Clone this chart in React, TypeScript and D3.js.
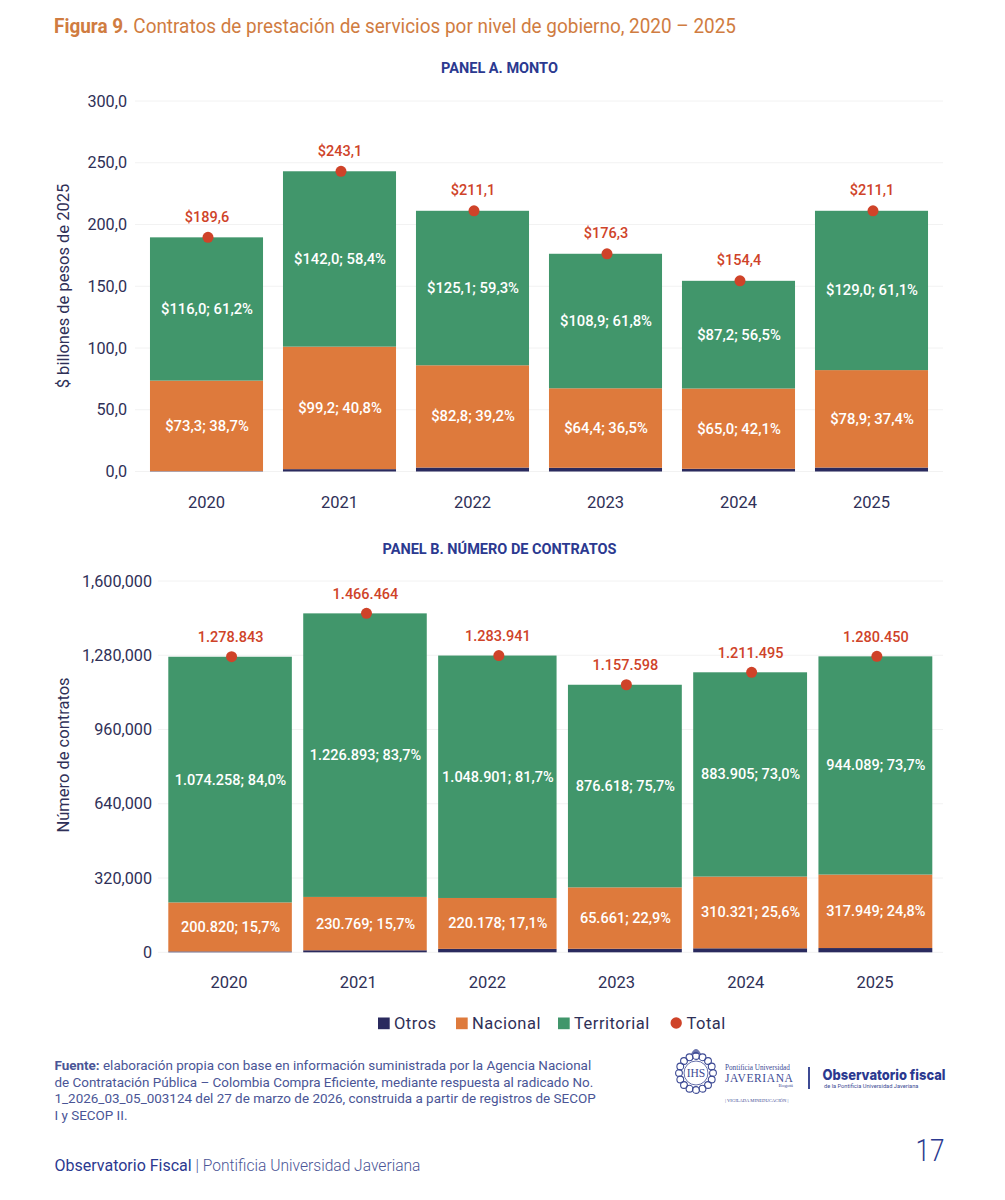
import { useEffect, useRef } from 'react'
import * as d3 from 'd3'

const years = ['2020', '2021', '2022', '2023', '2024', '2025']
const seriesKeys = ['Otros', 'Nacional', 'Territorial']

// Panel A, billones de pesos
const montoOtros = [0.3, 1.9, 3.2, 3.0, 2.2, 3.2]
const montoNacional = [73.3, 99.2, 82.8, 64.4, 65.0, 78.9]
const montoTerritorial = [116.0, 142.0, 125.1, 108.9, 87.2, 129.0]
const montoTotal = [189.6, 243.1, 211.1, 176.3, 154.4, 211.1]
const montoPctNacional = [38.7, 40.8, 39.2, 36.5, 42.1, 37.4]
const montoPctTerritorial = [61.2, 58.4, 59.3, 61.8, 56.5, 61.1]
const montoTicks = [0, 50, 100, 150, 200, 250, 300]

// Panel B, numero de contratos. Bar heights
const contratosOtros = [3765, 8802, 14862, 15319, 17269, 18412]
const contratosNacional = [212000, 230769, 220178, 265661, 310321, 317949]
const contratosTerritorial = [1063000, 1226893, 1048901, 876618, 883905, 944089]
const contratosTotal = [1278843, 1466464, 1283941, 1157598, 1211495, 1280450]
// Printed labels differ from the bars: 2023 says 65.661 on a 265.661 bar
const nacionalImpreso = [200820, 230769, 220178, 65661, 310321, 317949]
const territorialImpreso = [1074258, 1226893, 1048901, 876618, 883905, 944089]
const contratosPctNacional = [15.7, 15.7, 17.1, 22.9, 25.6, 24.8]
const contratosPctTerritorial = [84.0, 83.7, 81.7, 75.7, 73.0, 73.7]
const contratosTicks = [0, 320000, 640000, 960000, 1280000, 1600000]
// panel B bars are not all the same width in the original
const contratosBandWeights = [1.085, 1.085, 1.04, 1, 1, 1]

const legendItems = ['Otros', 'Nacional', 'Territorial', 'Total']

const fuenteLines = [
  'elaboración propia con base en información suministrada por la Agencia Nacional',
  'de Contratación Pública – Colombia Compra Eficiente, mediante respuesta al radicado No.',
  '1_2026_03_05_003124 del 27 de marzo de 2026, construida a partir de registros de SECOP',
  'I y SECOP II.',
]

const COLORS = {
  Otros: '#2a2a5e',
  Nacional: '#de7a3c',
  Territorial: '#41966b',
  Total: '#cf4329',
  ink: '#2f3057',
  navy: '#2b3990',
  title: '#d07c41',
  grid: '#f2f2f2',
  note: '#4a5596',
}
const FONT = 'Roboto, sans-serif'
const es = d3.formatLocale({ decimal: ',', thousands: '.', grouping: [3], currency: ['$', ''] })
const us = d3.format(',')
const fmt1 = es.format('.1f')
const fmtInt = es.format(',')

type Svg = d3.Selection<SVGSVGElement, unknown, null, undefined>

type Panel = {
  x: (i: number) => number
  w: (i: number) => number
  yearX: (i: number) => number
  y: d3.ScaleLinear<number, number>
  yMarks: d3.ScaleLinear<number, number>
  otros: number[]
  nacional: number[]
  territorial: number[]
  total: number[]
  segLabel: (key: string, i: number) => string
  totalLabel: (i: number) => string
  tickLabel: (v: number) => string
  ticks: number[]
  yLabel: string
  yLabelY: number
  title: string
  titleY: number
  tickX: number
  gridX: [number, number]
  yearY: number
  labelGap: number
  size: number
}

function drawPanel(svg: Svg, p: Panel) {
  const g = svg.append('g')

  g.append('text')
    .attr('x', 499.5).attr('y', p.titleY)
    .attr('text-anchor', 'middle')
    .attr('fill', COLORS.navy).attr('font-size', 14.5).attr('font-weight', 700)
    .attr('font-family', FONT)
    .text(p.title)

  // Gridlines and y axis labels
  p.ticks.forEach(t => {
    g.append('line')
      .attr('x1', p.gridX[0]).attr('x2', p.gridX[1])
      .attr('y1', p.y(t)).attr('y2', p.y(t))
      .attr('stroke', COLORS.grid).attr('stroke-width', 1)
    g.append('text')
      .attr('x', p.tickX).attr('y', p.y(t) + 5.5)
      .attr('text-anchor', 'end')
      .attr('fill', COLORS.ink).attr('font-size', 16.2)
      .attr('font-family', FONT)
      .text(p.tickLabel(t))
  })

  g.append('text')
    .attr('transform', `translate(69,${p.yLabelY}) rotate(-90)`)
    .attr('text-anchor', 'middle')
    .attr('fill', COLORS.ink).attr('font-size', 16.5)
    .attr('font-family', FONT)
    .text(p.yLabel)

  const rows = years.map((year, i) => ({
    year,
    Otros: p.otros[i],
    Nacional: p.nacional[i],
    Territorial: p.territorial[i],
  }))
  const layers = d3.stack<(typeof rows)[number]>().keys(seriesKeys)(rows)

  layers.forEach(layer => {
    layer.forEach((d, i) => {
      g.append('rect')
        .attr('x', p.x(i))
        .attr('y', p.yMarks(d[1]))
        .attr('width', p.w(i))
        .attr('height', p.yMarks(d[0]) - p.yMarks(d[1]))
        .attr('fill', COLORS[layer.key as keyof typeof COLORS])

      if (layer.key === 'Otros') return
      g.append('text')
        .attr('x', p.x(i) + p.w(i) / 2 + 0.5)
        .attr('y', (p.yMarks(d[0]) + p.yMarks(d[1])) / 2 + 5)
        .attr('text-anchor', 'middle')
        .attr('fill', '#fff').attr('font-size', p.size).attr('font-weight', 500)
        .attr('font-family', FONT)
        .text(p.segLabel(layer.key, i))
    })
  })

  years.forEach((year, i) => {
    const cx = p.x(i) + p.w(i) / 2
    g.append('circle')
      .attr('cx', cx + 1.5).attr('cy', p.yMarks(p.total[i]))
      .attr('r', 5.5)
      .attr('fill', COLORS.Total)
    g.append('text')
      .attr('x', cx + 0.5).attr('y', p.yMarks(p.total[i]) - p.labelGap)
      .attr('text-anchor', 'middle')
      .attr('fill', COLORS.Total).attr('font-size', 14.5).attr('font-weight', 500)
      .attr('font-family', FONT)
      .text(p.totalLabel(i))
    g.append('text')
      .attr('x', p.yearX(i)).attr('y', p.yearY)
      .attr('text-anchor', 'middle')
      .attr('fill', COLORS.ink).attr('font-size', 16.5)
      .attr('font-family', FONT)
      .text(year)
  })
}

function drawLogo(svg: Svg) {
  const g = svg.append('g')
  const blue = '#3d4a94'
  const serif = 'Liberation Serif'

  // Crest, only a rough stand-in for the seal
  const crest = g.append('g').attr('transform', 'translate(696,1073)')
  crest.append('circle').attr('r', 12).attr('fill', 'none').attr('stroke', blue).attr('stroke-width', 0.8)
  d3.range(16).forEach(k => {
    const a = (k / 16) * 2 * Math.PI
    crest.append('circle')
      .attr('cx', 17 * Math.sin(a)).attr('cy', -17 * Math.cos(a))
      .attr('r', 3.4)
      .attr('fill', 'none').attr('stroke', blue).attr('stroke-width', 1.1)
  })
  crest.append('path').attr('d', 'M-5,-19 Q0,-29 5,-19 Z').attr('fill', blue).attr('opacity', 0.75)
  crest.append('text').attr('y', 4).attr('text-anchor', 'middle')
    .attr('fill', blue).attr('font-size', 11.5).attr('font-family', serif).text('IHS')

  g.append('text').attr('x', 725).attr('y', 1070)
    .attr('fill', blue).attr('font-size', 7.2).attr('font-family', serif).text('Pontificia Universidad')
  g.append('text').attr('x', 725).attr('y', 1082)
    .attr('fill', blue).attr('font-size', 11.5).attr('letter-spacing', 0.6).attr('font-family', serif).text('JAVERIANA')
  g.append('text').attr('x', 793).attr('y', 1087).attr('text-anchor', 'end')
    .attr('fill', blue).attr('font-size', 5).attr('font-family', serif).text('Bogotá')
  g.append('text').attr('x', 725).attr('y', 1102)
    .attr('fill', blue).attr('font-size', 4.6).attr('font-family', serif).text('| VIGILADA MINEDUCACIÓN |')
  g.append('line').attr('x1', 809).attr('x2', 809).attr('y1', 1067).attr('y2', 1089)
    .attr('stroke', blue).attr('stroke-width', 2)
  g.append('text').attr('x', 822.5).attr('y', 1080)
    .attr('textLength', 123).attr('lengthAdjust', 'spacingAndGlyphs')
    .attr('fill', COLORS.navy).attr('font-size', 14.5).attr('font-weight', 800).attr('font-family', 'Inter')
    .text('Observatorio fiscal')
  g.append('text').attr('x', 824).attr('y', 1088)
    .attr('fill', blue).attr('font-size', 5.7).attr('font-family', 'Roboto').text('de la Pontificia Universidad Javeriana')
}

export default function App() {
  const svgRef = useRef<SVGSVGElement>(null)

  useEffect(() => {
    if (!svgRef.current) return
    const svg = d3.select(svgRef.current)
    svg.selectAll('*').remove()

    svg.append('text')
      .attr('x', 54).attr('y', 33)
      .attr('textLength', 682).attr('lengthAdjust', 'spacingAndGlyphs')
      .attr('fill', COLORS.title).attr('font-size', 20)
      .attr('font-family', FONT)
      .call(t => {
        t.append('tspan').attr('font-weight', 700).text('Figura 9. ')
        t.append('tspan').text('Contratos de prestación de servicios por nivel de gobierno, 2020 – 2025')
      })

    const xA = d3.scaleBand<number>()
      .domain(d3.range(years.length))
      .range([140, 938])
      .paddingInner(0.15)
      .paddingOuter(0.075)
    const yA = d3.scaleLinear().domain([0, 300]).range([471.5, 101])

    drawPanel(svg, {
      x: i => xA(i)!,
      w: () => xA.bandwidth(),
      yearX: i => xA(i)! + xA.bandwidth() / 2,
      y: yA,
      yMarks: yA,
      otros: montoOtros,
      nacional: montoNacional,
      territorial: montoTerritorial,
      total: montoTotal,
      segLabel: (key, i) => key === 'Nacional'
        ? `$${fmt1(montoNacional[i])}; ${fmt1(montoPctNacional[i])}%`
        : `$${fmt1(montoTerritorial[i])}; ${fmt1(montoPctTerritorial[i])}%`,
      totalLabel: i => `$${fmt1(montoTotal[i])}`,
      tickLabel: v => fmt1(v),
      ticks: montoTicks,
      yLabel: '$ billones de pesos de 2025',
      yLabelY: 286,
      title: 'PANEL A. MONTO',
      titleY: 73,
      tickX: 127,
      gridX: [135, 943],
      yearY: 507.5,
      labelGap: 15.5,
      size: 14.8,
    })

    // variable width bands: cumulative weights through a linear scale
    const gap = 0.1
    const starts = contratosBandWeights.map((_, i) => d3.sum(contratosBandWeights.slice(0, i)) + i * gap)
    const xB = d3.scaleLinear()
      .domain([0, d3.sum(contratosBandWeights) + gap * (years.length - 1)])
      .range([168.3, 932.3])
    // year labels sit on an even spacing of their own, not under the bars
    const yearsB = d3.scalePoint<number>().domain(d3.range(years.length)).range([229, 875])
    const yB = d3.scaleLinear().domain([0, 1600000]).range([952.3, 581])

    drawPanel(svg, {
      x: i => xB(starts[i]),
      w: i => xB(starts[i] + contratosBandWeights[i]) - xB(starts[i]),
      yearX: i => yearsB(i)!,
      y: yB,
      // bars stop slightly short of the gridlines in the original
      yMarks: yB.copy().range([952.3, 582.5]),
      otros: contratosOtros,
      nacional: contratosNacional,
      territorial: contratosTerritorial,
      total: contratosTotal,
      segLabel: (key, i) => key === 'Nacional'
        ? `${fmtInt(nacionalImpreso[i])}; ${fmt1(contratosPctNacional[i])}%`
        : `${fmtInt(territorialImpreso[i])}; ${fmt1(contratosPctTerritorial[i])}%`,
      totalLabel: i => fmtInt(contratosTotal[i]),
      tickLabel: v => us(v),
      ticks: contratosTicks,
      yLabel: 'Número de contratos',
      yLabelY: 755,
      title: 'PANEL B. NÚMERO DE CONTRATOS',
      titleY: 554,
      tickX: 152,
      gridX: [158, 943],
      yearY: 988,
      labelGap: 14.5,
      size: 14.5,
    })

    // Legend
    const legendX = d3.scaleOrdinal<string, number>().domain(legendItems).range([378, 456, 558, 670.5])
    legendItems.forEach(name => {
      const lx = legendX(name)
      if (name === 'Total') {
        svg.append('circle').attr('cx', lx + 5.7).attr('cy', 1023).attr('r', 5.7).attr('fill', COLORS.Total)
      } else {
        svg.append('rect').attr('x', lx).attr('y', 1017.5).attr('width', 11.7).attr('height', 11.7)
          .attr('fill', COLORS[name as keyof typeof COLORS])
      }
      svg.append('text')
        .attr('x', lx + 16).attr('y', 1029)
        .attr('fill', COLORS.ink).attr('font-size', 16.5).attr('letter-spacing', 0.5)
        .attr('font-family', FONT)
        .text(name)
    })

    // Source note
    const note = svg.append('g').attr('font-family', FONT).attr('font-size', 13.45).attr('fill', COLORS.note)
    fuenteLines.forEach((line, i) => {
      const t = note.append('text').attr('x', 54.5).attr('y', 1070 + i * 16.7)
      if (i === 0) t.append('tspan').attr('font-weight', 700).text('Fuente: ')
      t.append('tspan').text(line)
    })

    drawLogo(svg)

    const foot = svg.append('text').attr('x', 54.5).attr('y', 1171).attr('font-size', 16).attr('font-family', FONT)
    foot.append('tspan').attr('fill', COLORS.navy).text('Observatorio Fiscal')
    foot.append('tspan').attr('fill', COLORS.note).attr('font-weight', 300).attr('font-size', 15.6)
      .text(' | Pontificia Universidad Javeriana')

    svg.append('text').attr('x', 915.5).attr('y', 1160.5)
      .attr('textLength', 29).attr('lengthAdjust', 'spacingAndGlyphs')
      .attr('fill', COLORS.navy).attr('font-size', 32).attr('font-weight', 300).attr('font-family', FONT)
      .text('17')
  }, [])

  return (
    <svg
      ref={svgRef}
      width={1005}
      height={1200}
      style={{ position: 'absolute', left: 0, top: 0, background: '#fff' }}
    />
  )
}
